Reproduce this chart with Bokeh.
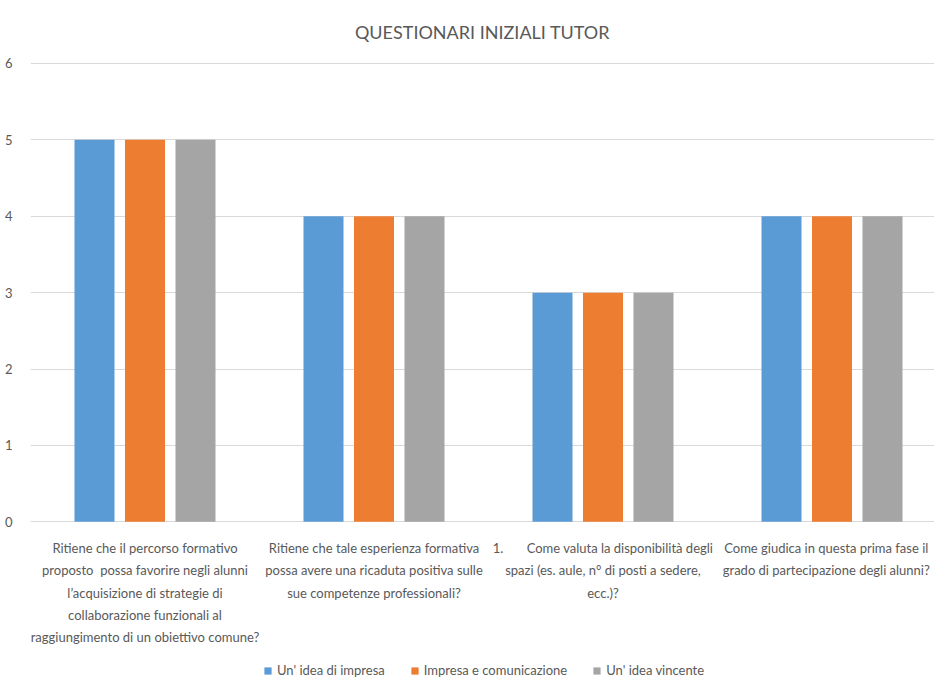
from bokeh.plotting import figure
from bokeh.models import Range1d, FixedTicker, Legend, LegendItem, ColumnDataSource
from bokeh.core.properties import value
from bokeh.embed import file_html
from bokeh.resources import INLINE

categories = [
    "Ritiene che il percorso formativo\nproposto\u00a0 possa favorire negli alunni\nl\u2019acquisizione di strategie di\ncollaborazione funzionali al\nraggiungimento di un obiettivo comune?",
    "Ritiene che tale esperienza formativa\npossa avere una ricaduta positiva sulle\nsue competenze professionali?",
    "1.\u00a0\u00a0\u00a0\u00a0\u00a0\u00a0\u00a0Come valuta la disponibilit\u00e0 degli\nspazi (es. aule, n\u00b0 di posti a sedere,\necc.)?",
    "Come giudica in questa prima fase il\ngrado di partecipazione degli alunni?",
]
series_names = ["Un' idea di impresa", "Impresa e comunicazione", "Un' idea vincente"]
values_impresa = [5, 4, 3, 4]
values_comunicazione = [5, 4, 3, 4]
values_vincente = [5, 4, 3, 4]
y_ticks = [0, 1, 2, 3, 4, 5, 6]

colors = ["#5B9BD5", "#ED7D31", "#A5A5A5"]
offsets = [-0.2205, 0.0, 0.2205]
label_nudge = [0.0, 0.0, 0.0, -0.025]
FONT = "Lato"

PX = 76.5          # pixels per unit
W = 934
H = 678
TOP = 60
LEFT = 30
y_top = 6 + 2 / PX
y_bottom = y_top - (H - TOP) / PX
x_end = (W - LEFT) / 229 - 0.5

p = figure(width=W, height=H, output_backend="svg", toolbar_location=None,
           x_range=Range1d(-0.5, x_end), y_range=Range1d(y_bottom, y_top),
           min_border_left=LEFT, min_border_right=0, min_border_top=TOP, min_border_bottom=0)

p.title.text = "QUESTIONARI INIZIALI TUTOR"
p.title.align = "center"
p.title.text_font = FONT
p.title.text_font_size = "18px"
p.title.text_font_style = "normal"
p.title.text_color = "#595959"
p.title.standoff = 37

xs = list(range(len(categories)))
renderers = []
for vals, c, off in zip([values_impresa, values_comunicazione, values_vincente], colors, offsets):
    src = ColumnDataSource(dict(x=[x + off for x in xs], top=vals))
    r = p.vbar(x="x", top="top", width=0.1747, bottom=0, source=src, fill_color=c, line_color=None)
    renderers.append(r)

# category labels below the baseline
lab_y = -18 / PX
p.text(x=[x + n for x, n in zip(xs, label_nudge)], y=[lab_y] * len(xs), text=categories,
       text_align="center", text_baseline="top",
       text_font=value(FONT), text_font_size="13px", text_color="#595959", text_line_height=1.40)

p.xaxis.visible = False

p.yaxis.ticker = FixedTicker(ticks=y_ticks)
p.yaxis.axis_line_color = None
p.yaxis.major_tick_line_color = None
p.yaxis.minor_tick_line_color = None
p.yaxis.major_label_text_font = FONT
p.yaxis.major_label_text_font_size = "13px"
p.yaxis.major_label_text_color = "#595959"
p.yaxis.major_label_standoff = 12

p.xgrid.grid_line_color = None
p.ygrid.grid_line_color = "#D9D9D9"
p.outline_line_color = None

legend = Legend(items=[LegendItem(label=n, renderers=[r]) for n, r in zip(series_names, renderers)],
                orientation="horizontal", location=(233, 0),
                label_text_font=FONT, label_text_font_size="13px", label_text_color="#595959",
                glyph_width=9, glyph_height=9, spacing=25, label_standoff=5,
                border_line_color=None, background_fill_alpha=0, padding=4, margin=0)
p.add_layout(legend)

open("out.html", "w").write(file_html(p, INLINE))
